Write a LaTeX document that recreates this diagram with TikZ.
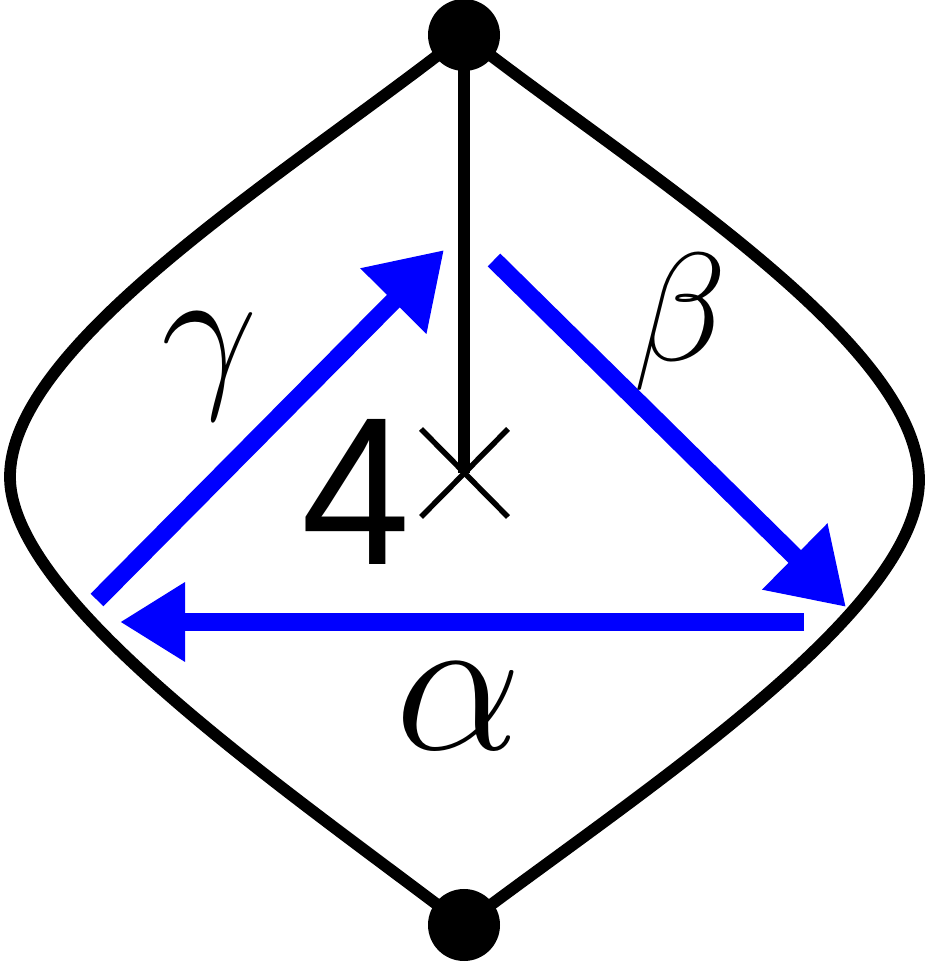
\documentclass[tikz,border=0pt]{standalone}
\usepackage{graphicx}
\usepackage{fontspec}
\setmainfont{Liberation Sans}
\usetikzlibrary{arrows.meta}
\tikzset{
blackline/.style={line width=3.35pt},
blackdot/.style={circle,fill=black,inner sep=0pt,minimum size=0.72cm},
bluearrow/.style={color=blue,line width=5.1pt,-{Triangle[length=0.65cm,width=0.75cm]}},
bluediag/.style={color=blue,line width=5.1pt,-{Triangle[length=0.72cm,width=0.88cm]}},
crossline/.style={line width=1.55pt},
}
\begin{document}
\begin{tikzpicture}
\useasboundingbox (0,0) rectangle (9.3,9.62);
\node [blackdot] (top) at (4.64,9.27) {};
\node [blackdot] (bottom) at (4.64,0.37) {};
\coordinate (left) at (0.1,4.85);
\coordinate (right) at (9.19,4.82);
\coordinate (center) at (4.64,4.89);
\draw [blackline] (top.center) .. controls (2.9,7.9) and (0.1,6.2) .. (left) .. controls (0.1,3.6) and (2.9,1.7) .. (bottom.center);
\draw [blackline] (top.center) .. controls (6.4,7.9) and (9.19,6.2) .. (right) .. controls (9.19,3.5) and (6.4,1.7) .. (bottom.center);
\draw [blackline] (top.center) -- (center);
\coordinate (c1) at (4.21,5.33);
\coordinate (c2) at (5.08,4.45);
\coordinate (c3) at (4.21,4.45);
\coordinate (c4) at (5.08,5.33);
\draw [crossline] (c1) -- (c2);
\draw [crossline] (c3) -- (c4);
\coordinate (a1) at (8.04,3.4);
\coordinate (a2) at (1.2,3.4);
\coordinate (b1) at (4.94,7.02);
\coordinate (b2) at (8.46,3.55);
\coordinate (g1) at (0.97,3.62);
\coordinate (g2) at (4.44,7.12);
\draw [bluearrow] (a1) -- (a2);
\draw [bluediag] (b1) -- (b2);
\draw [bluediag] (g1) -- (g2);
\node (four) at (3.56,4.7) {\scalebox{0.93}[1]{\fontsize{60}{60}\selectfont 4}};
\node (alpha) at (4.59,2.56) {\scalebox{2.3}{\fontsize{24.88}{25}\selectfont $\alpha$}};
\node (beta) at (6.8,6.4) {\scalebox{1.76}{\fontsize{24.88}{25}\selectfont $\beta$}};
\node (gamma) at (2.1,5.96) {\scalebox{1.96}{\fontsize{24.88}{25}\selectfont $\gamma$}};
\end{tikzpicture}
\end{document}
